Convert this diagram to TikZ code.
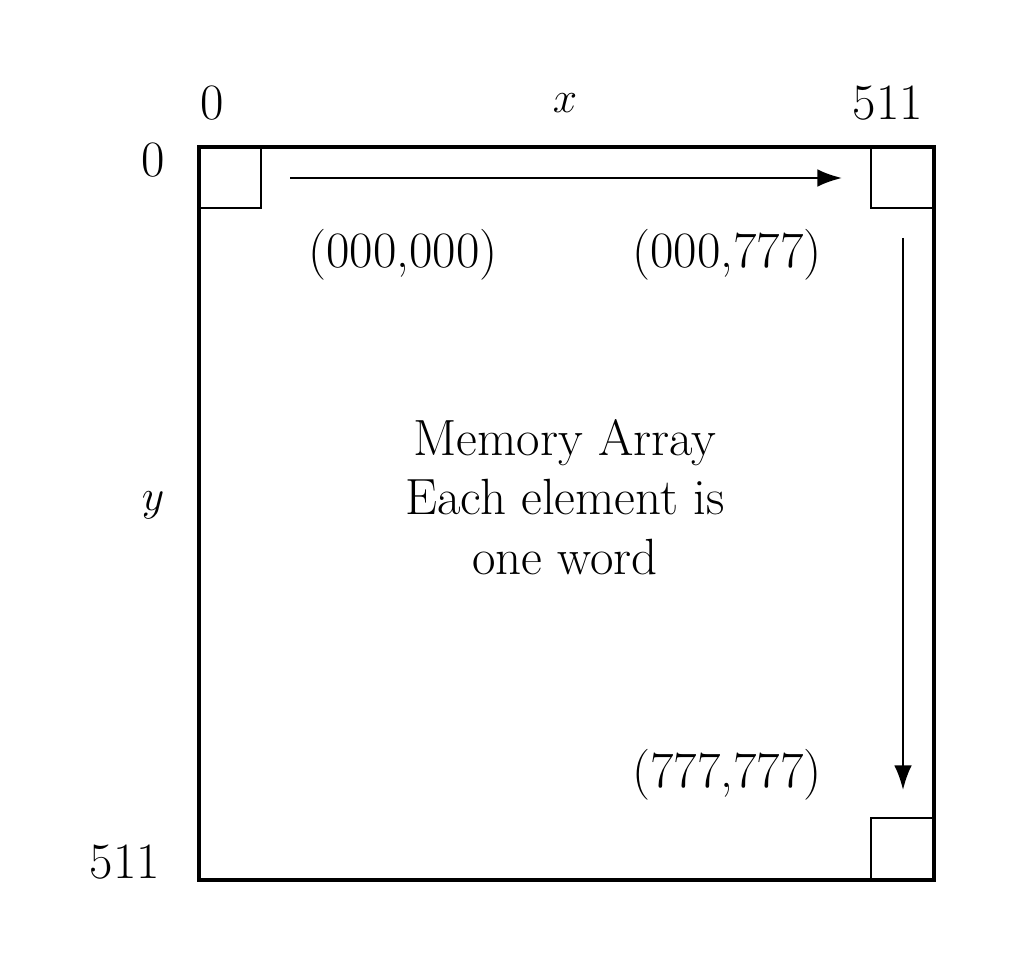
\documentclass[tikz,border=0pt]{standalone}
\usetikzlibrary{arrows.meta}
\begin{document}
\begin{tikzpicture}[x=0.02cm,y=-0.02cm,
  lbl/.style={inner sep=0pt,font=\fontsize{29}{34}\selectfont},
  cell/.style={draw,line width=1.2pt},
  arr/.style={-{Latex[length=14pt,width=10pt]},line width=1.2pt}]
\useasboundingbox (0,0) rectangle (1024,966);
\node[draw,line width=2.5pt,minimum width=735*0.02cm,minimum height=733*0.02cm,inner sep=0pt] (arr) at (566.5,513.5) {};
\draw[cell] (199,147) rectangle (261,208);
\draw[cell] (871,147) rectangle (934,208);
\draw[cell] (871,818) rectangle (934,880);
\coordinate (h1) at (290,178); \coordinate (h2) at (842,178);
\coordinate (v1) at (903,238); \coordinate (v2) at (903,790);
\draw[arr] (h1) -- (h2);
\draw[arr] (v1) -- (v2);
\node[lbl] (t0) at (212,103) {0};
\node[lbl] (tx) at (565,103) {$x$};
\node[lbl] (t511) at (888,103) {511};
\node[lbl] (l0) at (153,160) {0};
\node[lbl] (ly) at (153,505) {$y$};
\node[lbl] (l511) at (125,862) {511};
\node[lbl] (a) at (403,255) {(000,000)};
\node[lbl] (b) at (727,255) {(000,777)};
\node[lbl] (c) at (727,775) {(777,777)};
\node[lbl,align=center] (m) at (565,497) {Memory Array\\Each element is\\one word};
\end{tikzpicture}
\end{document}
